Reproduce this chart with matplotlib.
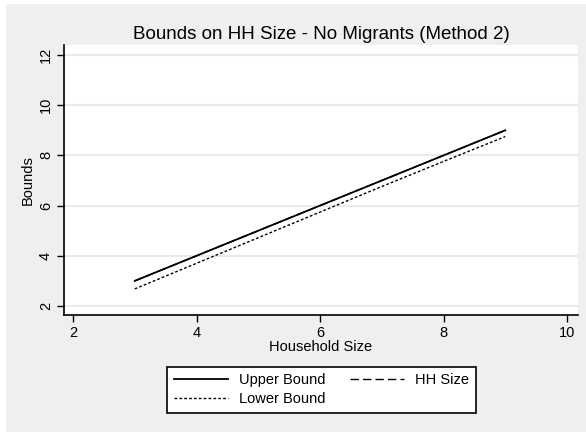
import matplotlib
matplotlib.use("Agg")
import matplotlib.pyplot as plt
from matplotlib.patches import Rectangle

hh_size = [3, 4, 5, 6, 7, 8, 9]
upper_bound = [3, 4, 5, 6, 7, 8, 9]
hh_line = [3, 4, 5, 6, 7, 8, 9]
lower_bound = [2.68, 3.70, 4.72, 5.74, 6.76, 7.76, 8.75]
xticks = [2, 4, 6, 8, 10]
yticks = [2, 4, 6, 8, 10, 12]

plt.rcParams['font.family'] = ['Liberation Sans', 'DejaVu Sans']

fig = plt.figure(figsize=(5.86, 4.32), dpi=100, facecolor='white')
fig.patches.append(Rectangle((6/586, 0), 1 - 6/586, 1 - 4/432, transform=fig.transFigure,
                             facecolor='#efefef', edgecolor='none', zorder=-10))

ax = fig.add_axes([64/586, 1 - 315/432, (578 - 64)/586, (315 - 45)/432])
ax.set_facecolor('white')

l1, = ax.plot(hh_size, upper_bound, color='black', lw=1.3, ls='-', label='Upper Bound')
l2, = ax.plot(hh_size, hh_line, color='black', lw=1.0, ls=(0, (6, 3)), label='HH Size')
l3, = ax.plot(hh_size, lower_bound, color='black', lw=1.0, ls=(0, (2, 1.5)), label='Lower Bound')

ax.set_xlim(1.854, 10.178)
ax.set_ylim(1.64, 12.40)
ax.set_xticks(xticks)
ax.set_yticks(yticks)
ax.grid(axis='y', color='#eaeaea', lw=1.5)
ax.set_axisbelow(True)
for s in ['top', 'right']:
    ax.spines[s].set_visible(False)
for s in ['left', 'bottom']:
    ax.spines[s].set_linewidth(1.2)
ax.tick_params(axis='both', direction='out', length=5, width=1, labelsize=10.5, pad=3)
for lab in ax.get_yticklabels():
    lab.set_rotation(90)
    lab.set_va('center')

ax.set_xlabel('Household Size', fontsize=10.5, labelpad=0)
ax.set_ylabel('Bounds', fontsize=10.5, labelpad=3)
ax.set_title('Bounds on HH Size - No Migrants (Method 2)', fontsize=13.5, pad=4)

leg = fig.legend([l1, l3, l2], ['Upper Bound', 'Lower Bound', 'HH Size'], ncol=2,
                 loc='lower left', bbox_to_anchor=(167/586, 19/432, (476 - 167)/586, (413 - 364)/432),
                 mode='expand', fontsize=10.5, handlelength=3.7, frameon=True, fancybox=False,
                 edgecolor='black', facecolor='white', framealpha=1, borderaxespad=0,
                 labelspacing=0.35, columnspacing=2.0, handletextpad=0.8, borderpad=0.45)
leg.get_frame().set_linewidth(1.2)

fig.savefig('out.png', dpi=100, facecolor=fig.get_facecolor())
